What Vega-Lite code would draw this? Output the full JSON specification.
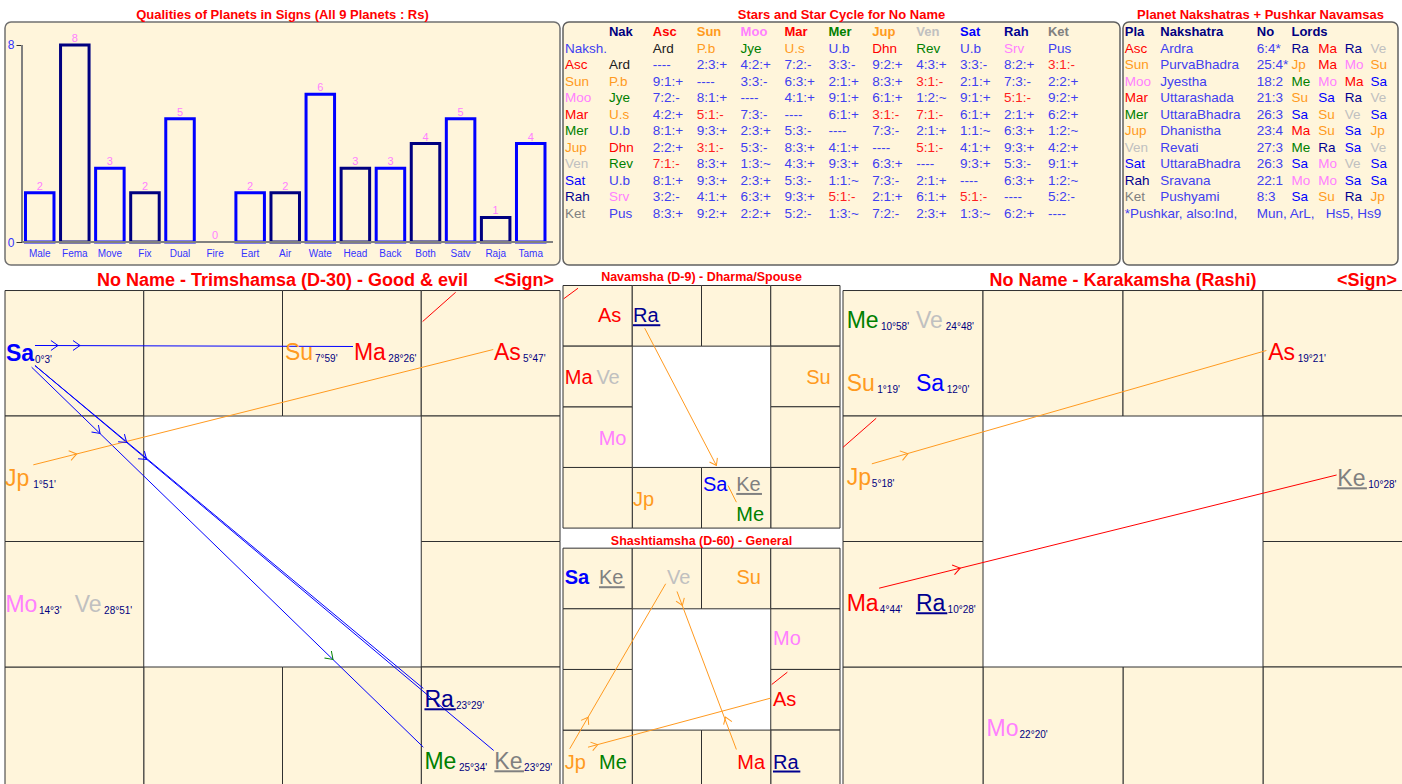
{
"$schema": "https://vega.github.io/schema/vega-lite/v6.json",
"background": "white",
"padding": {"left": 4, "top": 8, "right": 0, "bottom": 0},
"spacing": 4.5,
"config": {
  "font": "Liberation Sans",
  "view": {"stroke": null},
  "title": {"color": "#FF0000", "font": "Liberation Sans", "fontWeight": "bold", "anchor": "middle", "frame": "group"},
  "axis": {"labelFont": "Liberation Sans"},
  "text": {"font": "Liberation Sans"}
},
"datasets": {
  "bars": [
    {"q":"Male","v":2,"c":"a"},{"q":"Fema","v":8,"c":"b"},{"q":"Move","v":3,"c":"a"},{"q":"Fix","v":2,"c":"b"},{"q":"Dual","v":5,"c":"a"},{"q":"Fire","v":0,"c":"b"},{"q":"Eart","v":2,"c":"a"},{"q":"Air","v":2,"c":"b"},{"q":"Wate","v":6,"c":"a"},{"q":"Head","v":3,"c":"b"},{"q":"Back","v":3,"c":"a"},{"q":"Both","v":4,"c":"b"},{"q":"Satv","v":5,"c":"a"},{"q":"Raja","v":1,"c":"b"},{"q":"Tama","v":4,"c":"a"}
  ],
  "stars": [
    {"r":0,"c":1,"t":"Nak","k":"N"},{"r":0,"c":2,"t":"Asc","k":"As"},{"r":0,"c":3,"t":"Sun","k":"Su"},{"r":0,"c":4,"t":"Moo","k":"Mo"},{"r":0,"c":5,"t":"Mar","k":"Ma"},{"r":0,"c":6,"t":"Mer","k":"Me"},{"r":0,"c":7,"t":"Jup","k":"Jp"},{"r":0,"c":8,"t":"Ven","k":"Ve"},{"r":0,"c":9,"t":"Sat","k":"Sa"},{"r":0,"c":10,"t":"Rah","k":"Ra"},{"r":0,"c":11,"t":"Ket","k":"Ke"},
    {"r":1,"c":0,"t":"Naksh.","k":"T"},{"r":1,"c":2,"t":"Ard","k":"K"},{"r":1,"c":3,"t":"P.b","k":"Jp"},{"r":1,"c":4,"t":"Jye","k":"Me"},{"r":1,"c":5,"t":"U.s","k":"Su"},{"r":1,"c":6,"t":"U.b","k":"T"},{"r":1,"c":7,"t":"Dhn","k":"Ma"},{"r":1,"c":8,"t":"Rev","k":"Me"},{"r":1,"c":9,"t":"U.b","k":"T"},{"r":1,"c":10,"t":"Srv","k":"Mo"},{"r":1,"c":11,"t":"Pus","k":"T"},
    {"r":2,"c":0,"t":"Asc","k":"As"},{"r":2,"c":1,"t":"Ard","k":"K"},{"r":2,"c":2,"t":"----","k":"T"},{"r":2,"c":3,"t":"2:3:+","k":"T"},{"r":2,"c":4,"t":"4:2:+","k":"T"},{"r":2,"c":5,"t":"7:2:-","k":"T"},{"r":2,"c":6,"t":"3:3:-","k":"T"},{"r":2,"c":7,"t":"9:2:+","k":"T"},{"r":2,"c":8,"t":"4:3:+","k":"T"},{"r":2,"c":9,"t":"3:3:-","k":"T"},{"r":2,"c":10,"t":"8:2:+","k":"T"},{"r":2,"c":11,"t":"3:1:-","k":"R"},
    {"r":3,"c":0,"t":"Sun","k":"Su"},{"r":3,"c":1,"t":"P.b","k":"Jp"},{"r":3,"c":2,"t":"9:1:+","k":"T"},{"r":3,"c":3,"t":"----","k":"T"},{"r":3,"c":4,"t":"3:3:-","k":"T"},{"r":3,"c":5,"t":"6:3:+","k":"T"},{"r":3,"c":6,"t":"2:1:+","k":"T"},{"r":3,"c":7,"t":"8:3:+","k":"T"},{"r":3,"c":8,"t":"3:1:-","k":"R"},{"r":3,"c":9,"t":"2:1:+","k":"T"},{"r":3,"c":10,"t":"7:3:-","k":"T"},{"r":3,"c":11,"t":"2:2:+","k":"T"},
    {"r":4,"c":0,"t":"Moo","k":"Mo"},{"r":4,"c":1,"t":"Jye","k":"Me"},{"r":4,"c":2,"t":"7:2:-","k":"T"},{"r":4,"c":3,"t":"8:1:+","k":"T"},{"r":4,"c":4,"t":"----","k":"T"},{"r":4,"c":5,"t":"4:1:+","k":"T"},{"r":4,"c":6,"t":"9:1:+","k":"T"},{"r":4,"c":7,"t":"6:1:+","k":"T"},{"r":4,"c":8,"t":"1:2:~","k":"T"},{"r":4,"c":9,"t":"9:1:+","k":"T"},{"r":4,"c":10,"t":"5:1:-","k":"R"},{"r":4,"c":11,"t":"9:2:+","k":"T"},
    {"r":5,"c":0,"t":"Mar","k":"Ma"},{"r":5,"c":1,"t":"U.s","k":"Su"},{"r":5,"c":2,"t":"4:2:+","k":"T"},{"r":5,"c":3,"t":"5:1:-","k":"R"},{"r":5,"c":4,"t":"7:3:-","k":"T"},{"r":5,"c":5,"t":"----","k":"T"},{"r":5,"c":6,"t":"6:1:+","k":"T"},{"r":5,"c":7,"t":"3:1:-","k":"R"},{"r":5,"c":8,"t":"7:1:-","k":"R"},{"r":5,"c":9,"t":"6:1:+","k":"T"},{"r":5,"c":10,"t":"2:1:+","k":"T"},{"r":5,"c":11,"t":"6:2:+","k":"T"},
    {"r":6,"c":0,"t":"Mer","k":"Me"},{"r":6,"c":1,"t":"U.b","k":"T"},{"r":6,"c":2,"t":"8:1:+","k":"T"},{"r":6,"c":3,"t":"9:3:+","k":"T"},{"r":6,"c":4,"t":"2:3:+","k":"T"},{"r":6,"c":5,"t":"5:3:-","k":"T"},{"r":6,"c":6,"t":"----","k":"T"},{"r":6,"c":7,"t":"7:3:-","k":"T"},{"r":6,"c":8,"t":"2:1:+","k":"T"},{"r":6,"c":9,"t":"1:1:~","k":"T"},{"r":6,"c":10,"t":"6:3:+","k":"T"},{"r":6,"c":11,"t":"1:2:~","k":"T"},
    {"r":7,"c":0,"t":"Jup","k":"Jp"},{"r":7,"c":1,"t":"Dhn","k":"Ma"},{"r":7,"c":2,"t":"2:2:+","k":"T"},{"r":7,"c":3,"t":"3:1:-","k":"R"},{"r":7,"c":4,"t":"5:3:-","k":"T"},{"r":7,"c":5,"t":"8:3:+","k":"T"},{"r":7,"c":6,"t":"4:1:+","k":"T"},{"r":7,"c":7,"t":"----","k":"T"},{"r":7,"c":8,"t":"5:1:-","k":"R"},{"r":7,"c":9,"t":"4:1:+","k":"T"},{"r":7,"c":10,"t":"9:3:+","k":"T"},{"r":7,"c":11,"t":"4:2:+","k":"T"},
    {"r":8,"c":0,"t":"Ven","k":"Ve"},{"r":8,"c":1,"t":"Rev","k":"Me"},{"r":8,"c":2,"t":"7:1:-","k":"R"},{"r":8,"c":3,"t":"8:3:+","k":"T"},{"r":8,"c":4,"t":"1:3:~","k":"T"},{"r":8,"c":5,"t":"4:3:+","k":"T"},{"r":8,"c":6,"t":"9:3:+","k":"T"},{"r":8,"c":7,"t":"6:3:+","k":"T"},{"r":8,"c":8,"t":"----","k":"T"},{"r":8,"c":9,"t":"9:3:+","k":"T"},{"r":8,"c":10,"t":"5:3:-","k":"T"},{"r":8,"c":11,"t":"9:1:+","k":"T"},
    {"r":9,"c":0,"t":"Sat","k":"Sa"},{"r":9,"c":1,"t":"U.b","k":"T"},{"r":9,"c":2,"t":"8:1:+","k":"T"},{"r":9,"c":3,"t":"9:3:+","k":"T"},{"r":9,"c":4,"t":"2:3:+","k":"T"},{"r":9,"c":5,"t":"5:3:-","k":"T"},{"r":9,"c":6,"t":"1:1:~","k":"T"},{"r":9,"c":7,"t":"7:3:-","k":"T"},{"r":9,"c":8,"t":"2:1:+","k":"T"},{"r":9,"c":9,"t":"----","k":"T"},{"r":9,"c":10,"t":"6:3:+","k":"T"},{"r":9,"c":11,"t":"1:2:~","k":"T"},
    {"r":10,"c":0,"t":"Rah","k":"Ra"},{"r":10,"c":1,"t":"Srv","k":"Mo"},{"r":10,"c":2,"t":"3:2:-","k":"T"},{"r":10,"c":3,"t":"4:1:+","k":"T"},{"r":10,"c":4,"t":"6:3:+","k":"T"},{"r":10,"c":5,"t":"9:3:+","k":"T"},{"r":10,"c":6,"t":"5:1:-","k":"R"},{"r":10,"c":7,"t":"2:1:+","k":"T"},{"r":10,"c":8,"t":"6:1:+","k":"T"},{"r":10,"c":9,"t":"5:1:-","k":"R"},{"r":10,"c":10,"t":"----","k":"T"},{"r":10,"c":11,"t":"5:2:-","k":"T"},
    {"r":11,"c":0,"t":"Ket","k":"Ke"},{"r":11,"c":1,"t":"Pus","k":"T"},{"r":11,"c":2,"t":"8:3:+","k":"T"},{"r":11,"c":3,"t":"9:2:+","k":"T"},{"r":11,"c":4,"t":"2:2:+","k":"T"},{"r":11,"c":5,"t":"5:2:-","k":"T"},{"r":11,"c":6,"t":"1:3:~","k":"T"},{"r":11,"c":7,"t":"7:2:-","k":"T"},{"r":11,"c":8,"t":"2:3:+","k":"T"},{"r":11,"c":9,"t":"1:3:~","k":"T"},{"r":11,"c":10,"t":"6:2:+","k":"T"},{"r":11,"c":11,"t":"----","k":"T"}
  ],
  "naks": [
    {"r":0,"c":0,"t":"Pla","k":"N"},{"r":0,"c":1.34,"t":"Nakshatra","k":"N"},{"r":0,"c":4.98,"t":"No","k":"N"},{"r":0,"c":6.29,"t":"Lords","k":"N"},
    {"r":1,"c":0,"t":"Asc","k":"As"},{"r":1,"c":1.34,"t":"Ardra","k":"T"},{"r":1,"c":4.98,"t":"\u00a06:4*","k":"T"},{"r":1,"c":6.29,"t":"Ra","k":"Ra"},{"r":1,"c":7.3,"t":"Ma","k":"Ma"},{"r":1,"c":8.3,"t":"Ra","k":"Ra"},{"r":1,"c":9.27,"t":"Ve","k":"Ve"},
    {"r":2,"c":0,"t":"Sun","k":"Su"},{"r":2,"c":1.34,"t":"PurvaBhadra","k":"T"},{"r":2,"c":4.98,"t":"25:4*","k":"T"},{"r":2,"c":6.29,"t":"Jp","k":"Jp"},{"r":2,"c":7.3,"t":"Ma","k":"Ma"},{"r":2,"c":8.3,"t":"Mo","k":"Mo"},{"r":2,"c":9.27,"t":"Su","k":"Su"},
    {"r":3,"c":0,"t":"Moo","k":"Mo"},{"r":3,"c":1.34,"t":"Jyestha","k":"T"},{"r":3,"c":4.98,"t":"18:2","k":"T"},{"r":3,"c":6.29,"t":"Me","k":"Me"},{"r":3,"c":7.3,"t":"Mo","k":"Mo"},{"r":3,"c":8.3,"t":"Ma","k":"Ma"},{"r":3,"c":9.27,"t":"Sa","k":"Sa"},
    {"r":4,"c":0,"t":"Mar","k":"Ma"},{"r":4,"c":1.34,"t":"Uttarashada","k":"T"},{"r":4,"c":4.98,"t":"21:3","k":"T"},{"r":4,"c":6.29,"t":"Su","k":"Su"},{"r":4,"c":7.3,"t":"Sa","k":"Sa"},{"r":4,"c":8.3,"t":"Ra","k":"Ra"},{"r":4,"c":9.27,"t":"Ve","k":"Ve"},
    {"r":5,"c":0,"t":"Mer","k":"Me"},{"r":5,"c":1.34,"t":"UttaraBhadra","k":"T"},{"r":5,"c":4.98,"t":"26:3","k":"T"},{"r":5,"c":6.29,"t":"Sa","k":"Sa"},{"r":5,"c":7.3,"t":"Su","k":"Su"},{"r":5,"c":8.3,"t":"Ve","k":"Ve"},{"r":5,"c":9.27,"t":"Sa","k":"Sa"},
    {"r":6,"c":0,"t":"Jup","k":"Jp"},{"r":6,"c":1.34,"t":"Dhanistha","k":"T"},{"r":6,"c":4.98,"t":"23:4","k":"T"},{"r":6,"c":6.29,"t":"Ma","k":"Ma"},{"r":6,"c":7.3,"t":"Su","k":"Su"},{"r":6,"c":8.3,"t":"Sa","k":"Sa"},{"r":6,"c":9.27,"t":"Jp","k":"Jp"},
    {"r":7,"c":0,"t":"Ven","k":"Ve"},{"r":7,"c":1.34,"t":"Revati","k":"T"},{"r":7,"c":4.98,"t":"27:3","k":"T"},{"r":7,"c":6.29,"t":"Me","k":"Me"},{"r":7,"c":7.3,"t":"Ra","k":"Ra"},{"r":7,"c":8.3,"t":"Sa","k":"Sa"},{"r":7,"c":9.27,"t":"Ve","k":"Ve"},
    {"r":8,"c":0,"t":"Sat","k":"Sa"},{"r":8,"c":1.34,"t":"UttaraBhadra","k":"T"},{"r":8,"c":4.98,"t":"26:3","k":"T"},{"r":8,"c":6.29,"t":"Sa","k":"Sa"},{"r":8,"c":7.3,"t":"Mo","k":"Mo"},{"r":8,"c":8.3,"t":"Ve","k":"Ve"},{"r":8,"c":9.27,"t":"Sa","k":"Sa"},
    {"r":9,"c":0,"t":"Rah","k":"Ra"},{"r":9,"c":1.34,"t":"Sravana","k":"T"},{"r":9,"c":4.98,"t":"22:1","k":"T"},{"r":9,"c":6.29,"t":"Mo","k":"Mo"},{"r":9,"c":7.3,"t":"Mo","k":"Mo"},{"r":9,"c":8.3,"t":"Sa","k":"Sa"},{"r":9,"c":9.27,"t":"Sa","k":"Sa"},
    {"r":10,"c":0,"t":"Ket","k":"Ke"},{"r":10,"c":1.34,"t":"Pushyami","k":"T"},{"r":10,"c":4.98,"t":"\u00a08:3","k":"T"},{"r":10,"c":6.29,"t":"Sa","k":"Sa"},{"r":10,"c":7.3,"t":"Su","k":"Su"},{"r":10,"c":8.3,"t":"Ra","k":"Ra"},{"r":10,"c":9.27,"t":"Jp","k":"Jp"},
    {"r":11,"c":0,"t":"*Pushkar, also:Ind,","k":"T"},{"r":11,"c":4.98,"t":"Mun, ArL,\u00a0\u00a0\u00a0Hs5, Hs9","k":"T"}
  ],
  "cells": [
    {"s":"Pisces","x1":0,"x2":1,"y1":0,"y2":1},{"s":"Aries","x1":1,"x2":2,"y1":0,"y2":1},{"s":"Taurus","x1":2,"x2":3,"y1":0,"y2":1},{"s":"Gemini","x1":3,"x2":4,"y1":0,"y2":1},
    {"s":"Cancer","x1":3,"x2":4,"y1":1,"y2":2},{"s":"Leo","x1":3,"x2":4,"y1":2,"y2":3},{"s":"Virgo","x1":3,"x2":4,"y1":3,"y2":4},{"s":"Libra","x1":2,"x2":3,"y1":3,"y2":4},
    {"s":"Scorpio","x1":1,"x2":2,"y1":3,"y2":4},{"s":"Sagittarius","x1":0,"x2":1,"y1":3,"y2":4},{"s":"Capricorn","x1":0,"x2":1,"y1":2,"y2":3},{"s":"Aquarius","x1":0,"x2":1,"y1":1,"y2":2}
  ],
  "midcells": [
    {"s":"Pisces","x1":0,"x2":1,"y1":0,"y2":1},{"s":"Aries","x1":1,"x2":2,"y1":0,"y2":1},{"s":"Taurus","x1":2,"x2":3,"y1":0,"y2":1},{"s":"Gemini","x1":3,"x2":4,"y1":0,"y2":1},
    {"s":"Cancer","x1":3,"x2":4,"y1":1,"y2":2},{"s":"Leo","x1":3,"x2":4,"y1":2,"y2":3},{"s":"Virgo","x1":3,"x2":4,"y1":3,"y2":4},{"s":"Libra","x1":2,"x2":3,"y1":3,"y2":4},
    {"s":"Scorpio","x1":1,"x2":2,"y1":3,"y2":4},{"s":"Sagittarius","x1":0,"x2":1,"y1":3,"y2":4},{"s":"Capricorn","x1":0,"x2":1,"y1":2,"y2":3},{"s":"Aquarius","x1":0,"x2":1,"y1":1,"y2":2},
    {"s":"Pisces","x1":0,"x2":1,"y1":4.331,"y2":5.331},{"s":"Aries","x1":1,"x2":2,"y1":4.331,"y2":5.331},{"s":"Taurus","x1":2,"x2":3,"y1":4.331,"y2":5.331},{"s":"Gemini","x1":3,"x2":4,"y1":4.331,"y2":5.331},
    {"s":"Cancer","x1":3,"x2":4,"y1":5.331,"y2":6.331},{"s":"Leo","x1":3,"x2":4,"y1":6.331,"y2":7.331},{"s":"Virgo","x1":3,"x2":4,"y1":7.331,"y2":8.331},{"s":"Libra","x1":2,"x2":3,"y1":7.331,"y2":8.331},
    {"s":"Scorpio","x1":1,"x2":2,"y1":7.331,"y2":8.331},{"s":"Sagittarius","x1":0,"x2":1,"y1":7.331,"y2":8.331},{"s":"Capricorn","x1":0,"x2":1,"y1":6.331,"y2":7.331},{"s":"Aquarius","x1":0,"x2":1,"y1":5.331,"y2":6.331}
  ],
  "planets": [
    {"g":"d30","k":"Sa","x":0.007,"y":0.558,"d":"0°3'","dx":0.216,"b":1},
    {"g":"d30","k":"Su","x":2.018,"y":0.550,"d":"7°59'","dx":2.234,"b":0},
    {"g":"d30","k":"Ma","x":2.515,"y":0.550,"d":"28°26'","dx":2.763,"b":0},
    {"g":"d30","k":"As","x":3.524,"y":0.554,"d":"5°47'","dx":3.733,"b":0},
    {"g":"d30","k":"Jp","x":0.0,"y":1.554,"d":"1°51'","dx":0.204,"b":0},
    {"g":"d30","k":"Mo","x":0.003,"y":2.558,"d":"14°3'","dx":0.245,"b":0},
    {"g":"d30","k":"Ve","x":0.502,"y":2.558,"d":"28°51'","dx":0.714,"b":0},
    {"g":"d30","k":"Ra","x":3.023,"y":3.315,"d":"23°29'","dx":3.250,"b":0},
    {"g":"d30","k":"Me","x":3.023,"y":3.809,"d":"25°34'","dx":3.272,"b":0},
    {"g":"d30","k":"Ke","x":3.527,"y":3.809,"d":"23°29'","dx":3.741,"b":0},
    {"g":"kar","k":"Me","x":0.026,"y":0.300,"d":"10°58'","dx":0.271,"b":0},
    {"g":"kar","k":"Ve","x":0.521,"y":0.300,"d":"24°48'","dx":0.734,"b":0},
    {"g":"kar","k":"Su","x":0.026,"y":0.797,"d":"1°19'","dx":0.245,"b":0},
    {"g":"kar","k":"Sa","x":0.521,"y":0.797,"d":"12°0'","dx":0.741,"b":0},
    {"g":"kar","k":"As","x":3.037,"y":0.550,"d":"19°21'","dx":3.248,"b":0},
    {"g":"kar","k":"Jp","x":0.026,"y":1.548,"d":"5°18'","dx":0.206,"b":0},
    {"g":"kar","k":"Ke","x":3.531,"y":1.554,"d":"10°28'","dx":3.752,"b":0},
    {"g":"kar","k":"Ma","x":0.026,"y":2.550,"d":"4°44'","dx":0.263,"b":0},
    {"g":"kar","k":"Ra","x":0.521,"y":2.550,"d":"10°28'","dx":0.747,"b":0},
    {"g":"kar","k":"Mo","x":1.025,"y":3.551,"d":"22°20'","dx":1.261,"b":0},
    {"g":"mid","k":"As","x":0.505,"y":0.610,"b":0},
    {"g":"mid","k":"Ra","x":1.010,"y":0.610,"b":0},
    {"g":"mid","k":"Ma","x":0.025,"y":1.621,"b":0},
    {"g":"mid","k":"Ve","x":0.482,"y":1.621,"b":0},
    {"g":"mid","k":"Su","x":3.512,"y":1.621,"b":0},
    {"g":"mid","k":"Mo","x":0.515,"y":2.638,"b":0},
    {"g":"mid","k":"Jp","x":1.010,"y":3.644,"b":0},
    {"g":"mid","k":"Sa","x":2.020,"y":3.392,"b":0},
    {"g":"mid","k":"Ke","x":2.502,"y":3.392,"b":0},
    {"g":"mid","k":"Me","x":2.502,"y":3.891,"b":0},
    {"g":"mid","k":"Sa","x":0.025,"y":4.930,"b":1},
    {"g":"mid","k":"Ke","x":0.520,"y":4.930,"b":0},
    {"g":"mid","k":"Ve","x":1.502,"y":4.930,"b":0},
    {"g":"mid","k":"Su","x":2.504,"y":4.930,"b":0},
    {"g":"mid","k":"Mo","x":3.032,"y":5.924,"b":0},
    {"g":"mid","k":"As","x":3.032,"y":6.937,"b":0},
    {"g":"mid","k":"Ra","x":3.032,"y":7.969,"b":0},
    {"g":"mid","k":"Ma","x":2.518,"y":7.969,"b":0},
    {"g":"mid","k":"Jp","x":0.025,"y":7.969,"b":0},
    {"g":"mid","k":"Me","x":0.520,"y":7.969,"b":0}
  ],
  "lines": [
    {"g":"d30","k":"Sa","x":0.216,"y":0.438,"x2":2.508,"y2":0.446},
    {"g":"d30","k":"Sa","x":0.192,"y":0.611,"x2":3.015,"y2":3.639},
    {"g":"d30","k":"Sa","x":0.216,"y":0.598,"x2":3.015,"y2":3.171},
    {"g":"d30","k":"Sa","x":0.216,"y":0.598,"x2":3.522,"y2":3.665},
    {"g":"d30","k":"Jp","x":0.204,"y":1.389,"x2":3.519,"y2":0.470},
    {"g":"d30","k":"As","x":3.010,"y":0.247,"x2":3.248,"y2":0.014},
    {"g":"mid","k":"Jp","x":1.180,"y":0.704,"x2":2.215,"y2":2.968},
    {"g":"mid","k":"Jp","x":2.383,"y":3.298,"x2":2.504,"y2":3.573},
    {"g":"mid","k":"As","x":0.010,"y":0.219,"x2":0.217,"y2":0.045},
    {"g":"mid","k":"Jp","x":0.097,"y":7.639,"x2":1.483,"y2":4.918},
    {"g":"mid","k":"Jp","x":2.504,"y":7.651,"x2":1.646,"y2":5.045},
    {"g":"mid","k":"Jp","x":0.361,"y":7.613,"x2":2.995,"y2":6.805},
    {"g":"mid","k":"As","x":3.014,"y":6.579,"x2":3.240,"y2":6.376},
    {"g":"kar","k":"Jp","x":0.206,"y":1.381,"x2":3.024,"y2":0.478},
    {"g":"kar","k":"Ma","x":0.258,"y":2.372,"x2":3.526,"y2":1.470},
    {"g":"kar","k":"As","x":0.001,"y":1.249,"x2":0.237,"y2":1.018}
  ],
  "arrows": [
    {"g":"d30","k":"Sa","x":0.382,"y":0.438,"a":0},
    {"g":"d30","k":"Sa","x":0.541,"y":0.438,"a":0},
    {"g":"d30","k":"Sa","x":0.685,"y":1.139,"a":44.1},
    {"g":"d30","k":"Sa","x":0.877,"y":1.211,"a":39.8},
    {"g":"d30","k":"Sa","x":1.021,"y":1.347,"a":39.8},
    {"g":"d30","k":"Jp","x":0.517,"y":1.302,"a":-14.1},
    {"g":"d30","k":"Me","x":2.364,"y":2.940,"a":44.1},
    {"g":"kar","k":"Jp","x":0.464,"y":1.300,"a":-16.0},
    {"g":"kar","k":"Ma","x":0.837,"y":2.212,"a":-13.9},
    {"g":"mid","k":"Jp","x":2.215,"y":2.968,"a":62.4},
    {"g":"mid","k":"Jp","x":0.362,"y":7.118,"a":-59.8},
    {"g":"mid","k":"Jp","x":1.724,"y":5.276,"a":69.4},
    {"g":"mid","k":"Jp","x":2.347,"y":7.118,"a":-110.6},
    {"g":"mid","k":"Jp","x":0.501,"y":7.573,"a":-15.0}
  ],
  "under": [
    {"g":"d30","k":"Ra","x":3.023,"x2":3.249,"y":3.337},
    {"g":"d30","k":"Ke","x":3.527,"x2":3.740,"y":3.831},
    {"g":"kar","k":"Ke","x":3.531,"x2":3.742,"y":1.576},
    {"g":"kar","k":"Ra","x":0.521,"x2":0.745,"y":2.572},
    {"g":"mid","k":"Ra","x":1.010,"x2":1.405,"y":0.655},
    {"g":"mid","k":"Ke","x":2.502,"x2":2.873,"y":3.437},
    {"g":"mid","k":"Ke","x":0.520,"x2":0.891,"y":4.975},
    {"g":"mid","k":"Ra","x":3.032,"x2":3.427,"y":8.014}
  ],
  "heads": [
    {"g":"d30","t":"No Name - Trimshamsa (D-30) - Good & evil","x":2,"y":-0.04,"a":"c"},
    {"g":"d30","t":"<Sign>","x":3.957,"y":-0.04,"a":"r"},
    {"g":"kar","t":"No Name - Karakamsha (Rashi)","x":2,"y":-0.04,"a":"c"},
    {"g":"kar","t":"<Sign>","x":3.958,"y":-0.04,"a":"r"}
  ]
},
"vconcat": [
  {
    "hconcat": [
      {
        "width": 555, "height": 243,
        "view": {"fill": "#FFF5DB", "stroke": "#707070", "strokeWidth": 1.5, "cornerRadius": 6},
        "title": {"text": "Qualities of Planets in Signs (All 9 Planets : Rs)", "fontSize": 13, "offset": 0},
        "layer": [
          {
            "data": {"name": "bars"},
            "transform": [{"filter": "datum.v > 0"}],
            "mark": {"type": "bar", "fill": "#FFF5DB", "strokeWidth": 3},
            "encoding": {
              "x": {"field": "q", "type": "nominal", "sort": null, "scale": {"type": "band", "domain": ["Male","Fema","Move","Fix","Dual","Fire","Eart","Air","Wate","Head","Back","Both","Satv","Raja","Tama"], "paddingInner": 0.187, "paddingOuter": 0.506, "align": 0.577},
                    "axis": {"orient": "bottom", "offset": -23, "domain": false, "ticks": false, "labelAngle": 0, "labelColor": "#3333FF", "labelFontSize": 10, "labelPadding": 6, "title": null}},
              "y": {"field": "v", "type": "quantitative", "scale": {"domain": [-0.934, 8.934], "nice": false, "zero": false},
                    "axis": {"values": [0, 8], "offset": -17, "domain": false, "grid": false, "ticks": true, "tickSize": 6, "tickColor": "#333333", "labelColor": "#3333FF", "labelFontSize": 12, "labelPadding": 2, "title": null}},
              "y2": {"datum": 0},
              "stroke": {"field": "c", "type": "nominal", "scale": {"domain": ["a", "b"], "range": ["#0000FF", "#000080"]}, "legend": null}
            }
          },
          {
            "data": {"name": "bars"},
            "mark": {"type": "text", "baseline": "alphabetic", "dy": -3, "fontSize": 11, "color": "#FF80FF"},
            "encoding": {
              "x": {"field": "q", "type": "nominal", "sort": null},
              "y": {"field": "v", "type": "quantitative"},
              "text": {"field": "v"}
            }
          },
          {
            "data": {"values": [{}]},
            "mark": {"type": "rule", "color": "#808080", "strokeWidth": 2, "xOffset": -3.5},
            "encoding": {
              "x": {"datum": "Male", "type": "nominal", "bandPosition": 0},
              "y": {"datum": 0, "type": "quantitative"},
              "y2": {"datum": 8}
            }
          },
          {
            "data": {"values": [{}]},
            "mark": {"type": "rule", "color": "#808080", "strokeWidth": 2, "xOffset": -3.5, "x2Offset": 8},
            "encoding": {
              "x": {"datum": "Male", "type": "nominal", "bandPosition": 0},
              "x2": {"datum": "Tama", "bandPosition": 1},
              "y": {"datum": 0, "type": "quantitative"}
            }
          }
        ]
      },
      {
        "width": 557, "height": 243,
        "view": {"fill": "#FFF5DB", "stroke": "#606060", "strokeWidth": 1.5, "cornerRadius": 6},
        "title": {"text": "Stars and Star Cycle for No Name", "fontSize": 13, "offset": 0},
        "data": {"name": "stars"},
        "encoding": {
          "x": {"field": "c", "type": "quantitative", "scale": {"domain": [-0.0456, 12.642], "nice": false, "zero": false}, "axis": null},
          "y": {"field": "r", "type": "quantitative", "scale": {"domain": [-0.604, 14.079], "nice": false, "zero": false, "reverse": true}, "axis": null},
          "text": {"field": "t"},
          "color": {"field": "k", "type": "nominal", "scale": {"domain": ["As","Su","Mo","Ma","Me","Jp","Ve","Sa","Ra","Ke","T","R","N","K"], "range": ["#FF0000","#FF9A20","#FF80FF","#FF0000","#008000","#FF9A20","#C0C0C0","#0000FF","#000090","#808080","#4040F0","#FF2020","#000080","#202020"]}, "legend": null}
        },
        "layer": [
          {"transform": [{"filter": "datum.r == 0"}], "mark": {"type": "text", "align": "left", "baseline": "middle", "fontSize": 13, "fontWeight": "bold"}},
          {"transform": [{"filter": "datum.r > 0"}], "mark": {"type": "text", "align": "left", "baseline": "middle", "fontSize": 13.5}}
        ]
      },
      {
        "width": 275, "height": 243,
        "view": {"fill": "#FFF5DB", "stroke": "#606060", "strokeWidth": 1.5, "cornerRadius": 6},
        "title": {"text": "Planet Nakshatras + Pushkar Navamsas", "fontSize": 13, "offset": 0},
        "data": {"name": "naks"},
        "encoding": {
          "x": {"field": "c", "type": "quantitative", "scale": {"domain": [-0.068, 10.309], "nice": false, "zero": false}, "axis": null},
          "y": {"field": "r", "type": "quantitative", "scale": {"domain": [-0.604, 14.079], "nice": false, "zero": false, "reverse": true}, "axis": null},
          "text": {"field": "t"},
          "color": {"field": "k", "type": "nominal", "scale": {"domain": ["As","Su","Mo","Ma","Me","Jp","Ve","Sa","Ra","Ke","T","R","N","K"], "range": ["#FF0000","#FF9A20","#FF80FF","#FF0000","#008000","#FF9A20","#C0C0C0","#0000FF","#000090","#808080","#4040F0","#FF2020","#000080","#202020"]}, "legend": null}
        },
        "layer": [
          {"transform": [{"filter": "datum.r == 0"}], "mark": {"type": "text", "align": "left", "baseline": "middle", "fontSize": 13, "fontWeight": "bold"}},
          {"transform": [{"filter": "datum.r > 0"}], "mark": {"type": "text", "align": "left", "baseline": "middle", "fontSize": 13.5}}
        ]
      }
    ],
    "spacing": 3,
    "bounds": "flush"
  },
  {
    "hconcat": [
      {
        "width": 555, "height": 507,
        "layer": [
          {
            "data": {"name": "cells"},
            "mark": {"type": "rect", "fill": "#FFF5DB", "stroke": "#303030", "strokeWidth": 1},
            "encoding": {
              "x": {"field": "x1", "type": "quantitative", "scale": {"domain": [0, 4], "nice": false, "zero": false}, "axis": null},
              "x2": {"field": "x2"},
              "y": {"field": "y1", "type": "quantitative", "scale": {"domain": [-0.04, 4], "nice": false, "zero": false, "reverse": true}, "axis": null},
              "y2": {"field": "y2"}
            }
          },
          {
            "data": {"name": "lines"},
            "transform": [{"filter": "datum.g == 'd30'"}],
            "mark": {"type": "rule", "strokeWidth": 1},
            "encoding": {
              "x": {"field": "x", "type": "quantitative", "scale": {"domain": [0, 4], "nice": false, "zero": false}, "axis": null},
              "x2": {"field": "x2"},
              "y": {"field": "y", "type": "quantitative", "scale": {"domain": [-0.04, 4], "nice": false, "zero": false, "reverse": true}, "axis": null},
              "y2": {"field": "y2"},
              "color": {"field": "k", "type": "nominal", "scale": {"domain": ["As","Su","Mo","Ma","Me","Jp","Ve","Sa","Ra","Ke","T","R","N","K"], "range": ["#FF0000","#FF9A20","#FF80FF","#FF0000","#008000","#FF9A20","#C0C0C0","#0000FF","#000090","#808080","#4040F0","#FF2020","#000080","#202020"]}, "legend": null}
            }
          },
          {
            "data": {"name": "arrows"},
            "transform": [{"filter": "datum.g == 'd30'"}],
            "mark": {"type": "point", "shape": "M-1,-0.7L0,0L-1,0.7", "filled": false, "size": 200, "strokeWidth": 1, "opacity": 1},
            "encoding": {
              "x": {"field": "x", "type": "quantitative", "scale": {"domain": [0, 4], "nice": false, "zero": false}, "axis": null},
              "y": {"field": "y", "type": "quantitative", "scale": {"domain": [-0.04, 4], "nice": false, "zero": false, "reverse": true}, "axis": null},
              "angle": {"field": "a", "type": "quantitative", "scale": null},
              "color": {"field": "k", "type": "nominal", "scale": {"domain": ["As","Su","Mo","Ma","Me","Jp","Ve","Sa","Ra","Ke","T","R","N","K"], "range": ["#FF0000","#FF9A20","#FF80FF","#FF0000","#008000","#FF9A20","#C0C0C0","#0000FF","#000090","#808080","#4040F0","#FF2020","#000080","#202020"]}, "legend": null}
            }
          },
          {
            "data": {"name": "under"},
            "transform": [{"filter": "datum.g == 'd30'"}],
            "mark": {"type": "rule", "strokeWidth": 2},
            "encoding": {
              "x": {"field": "x", "type": "quantitative", "scale": {"domain": [0, 4], "nice": false, "zero": false}, "axis": null},
              "x2": {"field": "x2"},
              "y": {"field": "y", "type": "quantitative", "scale": {"domain": [-0.04, 4], "nice": false, "zero": false, "reverse": true}, "axis": null},
              "color": {"field": "k", "type": "nominal", "scale": {"domain": ["As","Su","Mo","Ma","Me","Jp","Ve","Sa","Ra","Ke","T","R","N","K"], "range": ["#FF0000","#FF9A20","#FF80FF","#FF0000","#008000","#FF9A20","#C0C0C0","#0000FF","#000090","#808080","#4040F0","#FF2020","#000080","#202020"]}, "legend": null}
            }
          },
          {
            "data": {"name": "planets"},
            "transform": [{"filter": "datum.g == 'd30' && datum.b == 0"}],
            "mark": {"type": "text", "align": "left", "baseline": "alphabetic", "fontSize": 23},
            "encoding": {
              "x": {"field": "x", "type": "quantitative", "scale": {"domain": [0, 4], "nice": false, "zero": false}, "axis": null},
              "y": {"field": "y", "type": "quantitative", "scale": {"domain": [-0.04, 4], "nice": false, "zero": false, "reverse": true}, "axis": null},
              "text": {"field": "k"},
              "color": {"field": "k", "type": "nominal", "scale": {"domain": ["As","Su","Mo","Ma","Me","Jp","Ve","Sa","Ra","Ke","T","R","N","K"], "range": ["#FF0000","#FF9A20","#FF80FF","#FF0000","#008000","#FF9A20","#C0C0C0","#0000FF","#000090","#808080","#4040F0","#FF2020","#000080","#202020"]}, "legend": null}
            }
          },
          {
            "data": {"name": "planets"},
            "transform": [{"filter": "datum.g == 'd30' && datum.b == 1"}],
            "mark": {"type": "text", "align": "left", "baseline": "alphabetic", "fontSize": 23, "fontWeight": "bold"},
            "encoding": {
              "x": {"field": "x", "type": "quantitative", "scale": {"domain": [0, 4], "nice": false, "zero": false}, "axis": null},
              "y": {"field": "y", "type": "quantitative", "scale": {"domain": [-0.04, 4], "nice": false, "zero": false, "reverse": true}, "axis": null},
              "text": {"field": "k"},
              "color": {"field": "k", "type": "nominal", "scale": {"domain": ["As","Su","Mo","Ma","Me","Jp","Ve","Sa","Ra","Ke","T","R","N","K"], "range": ["#FF0000","#FF9A20","#FF80FF","#FF0000","#008000","#FF9A20","#C0C0C0","#0000FF","#000090","#808080","#4040F0","#FF2020","#000080","#202020"]}, "legend": null}
            }
          },
          {
            "data": {"name": "planets"},
            "transform": [{"filter": "datum.g == 'd30'"}],
            "mark": {"type": "text", "align": "left", "baseline": "alphabetic", "fontSize": 10, "dy": 2, "color": "#000080"},
            "encoding": {
              "x": {"field": "dx", "type": "quantitative", "scale": {"domain": [0, 4], "nice": false, "zero": false}, "axis": null},
              "y": {"field": "y", "type": "quantitative", "scale": {"domain": [-0.04, 4], "nice": false, "zero": false, "reverse": true}, "axis": null},
              "text": {"field": "d"}
            }
          },
          {
            "data": {"name": "heads"},
            "transform": [{"filter": "datum.g == 'd30' && datum.a == 'c'"}],
            "mark": {"type": "text", "align": "center", "baseline": "alphabetic", "fontSize": 18, "fontWeight": "bold", "color": "#FF0000"},
            "encoding": {
              "x": {"field": "x", "type": "quantitative", "scale": {"domain": [0, 4], "nice": false, "zero": false}, "axis": null},
              "y": {"field": "y", "type": "quantitative", "scale": {"domain": [-0.04, 4], "nice": false, "zero": false, "reverse": true}, "axis": null},
              "text": {"field": "t"}
            }
          },
          {
            "data": {"name": "heads"},
            "transform": [{"filter": "datum.g == 'd30' && datum.a == 'r'"}],
            "mark": {"type": "text", "align": "right", "baseline": "alphabetic", "fontSize": 18, "fontWeight": "bold", "color": "#FF0000"},
            "encoding": {
              "x": {"field": "x", "type": "quantitative", "scale": {"domain": [0, 4], "nice": false, "zero": false}, "axis": null},
              "y": {"field": "y", "type": "quantitative", "scale": {"domain": [-0.04, 4], "nice": false, "zero": false, "reverse": true}, "axis": null},
              "text": {"field": "t"}
            }
          }
        ]
      },
      {
        "width": 277, "height": 507,
        "title": {"text": "Navamsha (D-9) - Dharma/Spouse", "fontSize": 12.5, "offset": 1.1},
        "layer": [
          {
            "data": {"name": "midcells"},
            "mark": {"type": "rect", "fill": "#FFF5DB", "stroke": "#303030", "strokeWidth": 1},
            "encoding": {
              "x": {"field": "x1", "type": "quantitative", "scale": {"domain": [0, 4], "nice": false, "zero": false}, "axis": null},
              "x2": {"field": "x2"},
              "y": {"field": "y1", "type": "quantitative", "scale": {"domain": [0, 8.36], "nice": false, "zero": false, "reverse": true}, "axis": null},
              "y2": {"field": "y2"}
            }
          },
          {
            "data": {"name": "lines"},
            "transform": [{"filter": "datum.g == 'mid'"}],
            "mark": {"type": "rule", "strokeWidth": 1},
            "encoding": {
              "x": {"field": "x", "type": "quantitative", "scale": {"domain": [0, 4], "nice": false, "zero": false}, "axis": null},
              "x2": {"field": "x2"},
              "y": {"field": "y", "type": "quantitative", "scale": {"domain": [0, 8.36], "nice": false, "zero": false, "reverse": true}, "axis": null},
              "y2": {"field": "y2"},
              "color": {"field": "k", "type": "nominal", "scale": {"domain": ["As","Su","Mo","Ma","Me","Jp","Ve","Sa","Ra","Ke","T","R","N","K"], "range": ["#FF0000","#FF9A20","#FF80FF","#FF0000","#008000","#FF9A20","#C0C0C0","#0000FF","#000090","#808080","#4040F0","#FF2020","#000080","#202020"]}, "legend": null}
            }
          },
          {
            "data": {"name": "arrows"},
            "transform": [{"filter": "datum.g == 'mid'"}],
            "mark": {"type": "point", "shape": "M-1,-0.7L0,0L-1,0.7", "filled": false, "size": 160, "strokeWidth": 1, "opacity": 1},
            "encoding": {
              "x": {"field": "x", "type": "quantitative", "scale": {"domain": [0, 4], "nice": false, "zero": false}, "axis": null},
              "y": {"field": "y", "type": "quantitative", "scale": {"domain": [0, 8.36], "nice": false, "zero": false, "reverse": true}, "axis": null},
              "angle": {"field": "a", "type": "quantitative", "scale": null},
              "color": {"field": "k", "type": "nominal", "scale": {"domain": ["As","Su","Mo","Ma","Me","Jp","Ve","Sa","Ra","Ke","T","R","N","K"], "range": ["#FF0000","#FF9A20","#FF80FF","#FF0000","#008000","#FF9A20","#C0C0C0","#0000FF","#000090","#808080","#4040F0","#FF2020","#000080","#202020"]}, "legend": null}
            }
          },
          {
            "data": {"name": "under"},
            "transform": [{"filter": "datum.g == 'mid'"}],
            "mark": {"type": "rule", "strokeWidth": 2},
            "encoding": {
              "x": {"field": "x", "type": "quantitative", "scale": {"domain": [0, 4], "nice": false, "zero": false}, "axis": null},
              "x2": {"field": "x2"},
              "y": {"field": "y", "type": "quantitative", "scale": {"domain": [0, 8.36], "nice": false, "zero": false, "reverse": true}, "axis": null},
              "color": {"field": "k", "type": "nominal", "scale": {"domain": ["As","Su","Mo","Ma","Me","Jp","Ve","Sa","Ra","Ke","T","R","N","K"], "range": ["#FF0000","#FF9A20","#FF80FF","#FF0000","#008000","#FF9A20","#C0C0C0","#0000FF","#000090","#808080","#4040F0","#FF2020","#000080","#202020"]}, "legend": null}
            }
          },
          {
            "data": {"name": "planets"},
            "transform": [{"filter": "datum.g == 'mid' && datum.b == 0"}],
            "mark": {"type": "text", "align": "left", "baseline": "alphabetic", "fontSize": 20},
            "encoding": {
              "x": {"field": "x", "type": "quantitative", "scale": {"domain": [0, 4], "nice": false, "zero": false}, "axis": null},
              "y": {"field": "y", "type": "quantitative", "scale": {"domain": [0, 8.36], "nice": false, "zero": false, "reverse": true}, "axis": null},
              "text": {"field": "k"},
              "color": {"field": "k", "type": "nominal", "scale": {"domain": ["As","Su","Mo","Ma","Me","Jp","Ve","Sa","Ra","Ke","T","R","N","K"], "range": ["#FF0000","#FF9A20","#FF80FF","#FF0000","#008000","#FF9A20","#C0C0C0","#0000FF","#000090","#808080","#4040F0","#FF2020","#000080","#202020"]}, "legend": null}
            }
          },
          {
            "data": {"name": "planets"},
            "transform": [{"filter": "datum.g == 'mid' && datum.b == 1"}],
            "mark": {"type": "text", "align": "left", "baseline": "alphabetic", "fontSize": 20, "fontWeight": "bold"},
            "encoding": {
              "x": {"field": "x", "type": "quantitative", "scale": {"domain": [0, 4], "nice": false, "zero": false}, "axis": null},
              "y": {"field": "y", "type": "quantitative", "scale": {"domain": [0, 8.36], "nice": false, "zero": false, "reverse": true}, "axis": null},
              "text": {"field": "k"},
              "color": {"field": "k", "type": "nominal", "scale": {"domain": ["As","Su","Mo","Ma","Me","Jp","Ve","Sa","Ra","Ke","T","R","N","K"], "range": ["#FF0000","#FF9A20","#FF80FF","#FF0000","#008000","#FF9A20","#C0C0C0","#0000FF","#000090","#808080","#4040F0","#FF2020","#000080","#202020"]}, "legend": null}
            }
          },
          {
            "data": {"values": [{"t": "Shashtiamsha (D-60) - General", "x": 2, "y": 4.287}]},
            "mark": {"type": "text", "align": "center", "baseline": "alphabetic", "fontSize": 12.5, "fontWeight": "bold", "color": "#FF0000"},
            "encoding": {
              "x": {"field": "x", "type": "quantitative", "scale": {"domain": [0, 4], "nice": false, "zero": false}, "axis": null},
              "y": {"field": "y", "type": "quantitative", "scale": {"domain": [0, 8.36], "nice": false, "zero": false, "reverse": true}, "axis": null},
              "text": {"field": "t"}
            }
          }
        ]
      },
      {
        "width": 560, "height": 507,
        "layer": [
          {
            "data": {"name": "cells"},
            "mark": {"type": "rect", "fill": "#FFF5DB", "stroke": "#303030", "strokeWidth": 1},
            "encoding": {
              "x": {"field": "x1", "type": "quantitative", "scale": {"domain": [0, 4], "nice": false, "zero": false}, "axis": null},
              "x2": {"field": "x2"},
              "y": {"field": "y1", "type": "quantitative", "scale": {"domain": [-0.04, 4], "nice": false, "zero": false, "reverse": true}, "axis": null},
              "y2": {"field": "y2"}
            }
          },
          {
            "data": {"name": "lines"},
            "transform": [{"filter": "datum.g == 'kar'"}],
            "mark": {"type": "rule", "strokeWidth": 1},
            "encoding": {
              "x": {"field": "x", "type": "quantitative", "scale": {"domain": [0, 4], "nice": false, "zero": false}, "axis": null},
              "x2": {"field": "x2"},
              "y": {"field": "y", "type": "quantitative", "scale": {"domain": [-0.04, 4], "nice": false, "zero": false, "reverse": true}, "axis": null},
              "y2": {"field": "y2"},
              "color": {"field": "k", "type": "nominal", "scale": {"domain": ["As","Su","Mo","Ma","Me","Jp","Ve","Sa","Ra","Ke","T","R","N","K"], "range": ["#FF0000","#FF9A20","#FF80FF","#FF0000","#008000","#FF9A20","#C0C0C0","#0000FF","#000090","#808080","#4040F0","#FF2020","#000080","#202020"]}, "legend": null}
            }
          },
          {
            "data": {"name": "arrows"},
            "transform": [{"filter": "datum.g == 'kar'"}],
            "mark": {"type": "point", "shape": "M-1,-0.7L0,0L-1,0.7", "filled": false, "size": 200, "strokeWidth": 1, "opacity": 1},
            "encoding": {
              "x": {"field": "x", "type": "quantitative", "scale": {"domain": [0, 4], "nice": false, "zero": false}, "axis": null},
              "y": {"field": "y", "type": "quantitative", "scale": {"domain": [-0.04, 4], "nice": false, "zero": false, "reverse": true}, "axis": null},
              "angle": {"field": "a", "type": "quantitative", "scale": null},
              "color": {"field": "k", "type": "nominal", "scale": {"domain": ["As","Su","Mo","Ma","Me","Jp","Ve","Sa","Ra","Ke","T","R","N","K"], "range": ["#FF0000","#FF9A20","#FF80FF","#FF0000","#008000","#FF9A20","#C0C0C0","#0000FF","#000090","#808080","#4040F0","#FF2020","#000080","#202020"]}, "legend": null}
            }
          },
          {
            "data": {"name": "under"},
            "transform": [{"filter": "datum.g == 'kar'"}],
            "mark": {"type": "rule", "strokeWidth": 2},
            "encoding": {
              "x": {"field": "x", "type": "quantitative", "scale": {"domain": [0, 4], "nice": false, "zero": false}, "axis": null},
              "x2": {"field": "x2"},
              "y": {"field": "y", "type": "quantitative", "scale": {"domain": [-0.04, 4], "nice": false, "zero": false, "reverse": true}, "axis": null},
              "color": {"field": "k", "type": "nominal", "scale": {"domain": ["As","Su","Mo","Ma","Me","Jp","Ve","Sa","Ra","Ke","T","R","N","K"], "range": ["#FF0000","#FF9A20","#FF80FF","#FF0000","#008000","#FF9A20","#C0C0C0","#0000FF","#000090","#808080","#4040F0","#FF2020","#000080","#202020"]}, "legend": null}
            }
          },
          {
            "data": {"name": "planets"},
            "transform": [{"filter": "datum.g == 'kar'"}],
            "mark": {"type": "text", "align": "left", "baseline": "alphabetic", "fontSize": 23},
            "encoding": {
              "x": {"field": "x", "type": "quantitative", "scale": {"domain": [0, 4], "nice": false, "zero": false}, "axis": null},
              "y": {"field": "y", "type": "quantitative", "scale": {"domain": [-0.04, 4], "nice": false, "zero": false, "reverse": true}, "axis": null},
              "text": {"field": "k"},
              "color": {"field": "k", "type": "nominal", "scale": {"domain": ["As","Su","Mo","Ma","Me","Jp","Ve","Sa","Ra","Ke","T","R","N","K"], "range": ["#FF0000","#FF9A20","#FF80FF","#FF0000","#008000","#FF9A20","#C0C0C0","#0000FF","#000090","#808080","#4040F0","#FF2020","#000080","#202020"]}, "legend": null}
            }
          },
          {
            "data": {"name": "planets"},
            "transform": [{"filter": "datum.g == 'kar'"}],
            "mark": {"type": "text", "align": "left", "baseline": "alphabetic", "fontSize": 10, "dy": 2, "color": "#000080"},
            "encoding": {
              "x": {"field": "dx", "type": "quantitative", "scale": {"domain": [0, 4], "nice": false, "zero": false}, "axis": null},
              "y": {"field": "y", "type": "quantitative", "scale": {"domain": [-0.04, 4], "nice": false, "zero": false, "reverse": true}, "axis": null},
              "text": {"field": "d"}
            }
          },
          {
            "data": {"name": "heads"},
            "transform": [{"filter": "datum.g == 'kar' && datum.a == 'c'"}],
            "mark": {"type": "text", "align": "center", "baseline": "alphabetic", "fontSize": 18, "fontWeight": "bold", "color": "#FF0000"},
            "encoding": {
              "x": {"field": "x", "type": "quantitative", "scale": {"domain": [0, 4], "nice": false, "zero": false}, "axis": null},
              "y": {"field": "y", "type": "quantitative", "scale": {"domain": [-0.04, 4], "nice": false, "zero": false, "reverse": true}, "axis": null},
              "text": {"field": "t"}
            }
          },
          {
            "data": {"name": "heads"},
            "transform": [{"filter": "datum.g == 'kar' && datum.a == 'r'"}],
            "mark": {"type": "text", "align": "right", "baseline": "alphabetic", "fontSize": 18, "fontWeight": "bold", "color": "#FF0000"},
            "encoding": {
              "x": {"field": "x", "type": "quantitative", "scale": {"domain": [0, 4], "nice": false, "zero": false}, "axis": null},
              "y": {"field": "y", "type": "quantitative", "scale": {"domain": [-0.04, 4], "nice": false, "zero": false, "reverse": true}, "axis": null},
              "text": {"field": "t"}
            }
          }
        ]
      }
    ],
    "spacing": 3,
    "bounds": "flush"
  }
]
}
